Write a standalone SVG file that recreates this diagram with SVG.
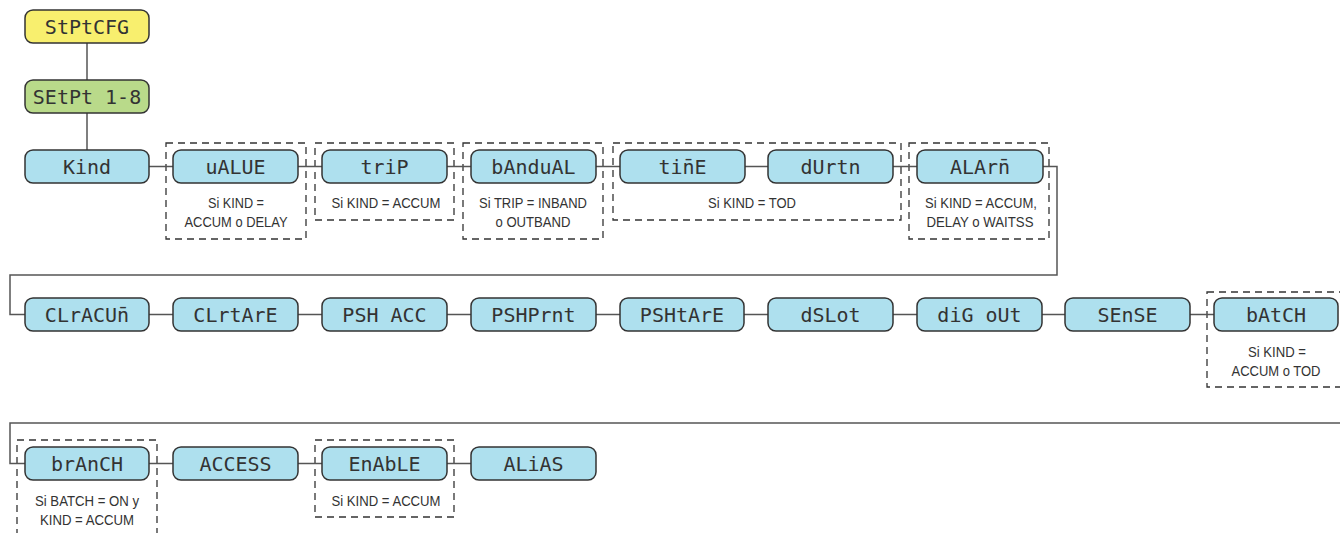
<svg xmlns="http://www.w3.org/2000/svg" width="1340" height="533" viewBox="0 0 1340 533">
<style>
.n{stroke:#333;stroke-width:1.5}
.y{fill:#f8ef6e}
.g{fill:#b9da8a}
.b{fill:#aee0ee}
.lcd{font-family:"DejaVu Sans Mono","Liberation Mono",monospace;font-size:20px;fill:#333;text-anchor:middle}
.c{fill:none;stroke:#555;stroke-width:1.5}
.d{fill:none;stroke:#333;stroke-width:1.3;stroke-dasharray:7 5}
.t{font-family:"Liberation Sans",Arial,sans-serif;font-size:15.5px;fill:#333;text-anchor:middle}
</style>
<rect width="1340" height="533" fill="#fff"/>
<g id="conditions">
<rect class="d" x="166" y="143" width="140" height="96"/>
<text class="t" x="236" y="208" textLength="56" lengthAdjust="spacingAndGlyphs">Si KIND =</text>
<text class="t" x="236" y="227" textLength="103" lengthAdjust="spacingAndGlyphs">ACCUM o DELAY</text>
<rect class="d" x="315" y="143" width="139" height="77"/>
<text class="t" x="386" y="208" textLength="109" lengthAdjust="spacingAndGlyphs">Si KIND = ACCUM</text>
<rect class="d" x="463" y="143" width="140" height="96"/>
<text class="t" x="533" y="208" textLength="108" lengthAdjust="spacingAndGlyphs">Si TRIP = INBAND</text>
<text class="t" x="533" y="227" textLength="75" lengthAdjust="spacingAndGlyphs">o OUTBAND</text>
<rect class="d" x="613" y="143" width="288" height="77"/>
<text class="t" x="752" y="208" textLength="88" lengthAdjust="spacingAndGlyphs">Si KIND = TOD</text>
<rect class="d" x="909" y="143" width="140" height="96"/>
<text class="t" x="981" y="208" textLength="112" lengthAdjust="spacingAndGlyphs">Si KIND = ACCUM,</text>
<text class="t" x="980" y="227" textLength="107" lengthAdjust="spacingAndGlyphs">DELAY o WAITSS</text>
<rect class="d" x="1207" y="292" width="140" height="95"/>
<text class="t" x="1277" y="357" textLength="58" lengthAdjust="spacingAndGlyphs">Si KIND =</text>
<text class="t" x="1276" y="376" textLength="89" lengthAdjust="spacingAndGlyphs">ACCUM o TOD</text>
<rect class="d" x="17" y="440" width="140" height="100"/>
<text class="t" x="87" y="506" textLength="104" lengthAdjust="spacingAndGlyphs">Si BATCH = ON y</text>
<text class="t" x="87" y="525" textLength="94" lengthAdjust="spacingAndGlyphs">KIND = ACCUM</text>
<rect class="d" x="315" y="440" width="139" height="77"/>
<text class="t" x="386" y="506" textLength="109" lengthAdjust="spacingAndGlyphs">Si KIND = ACCUM</text>
</g>
<g id="connectors">
<path class="c" d="M87,43V80M87,113V150"/>
<path class="c" d="M149,166.5H173M298,166.5H322M447,166.5H471M596,166.5H620M745,166.5H768M893,166.5H917"/>
<path class="c" d="M1043,166.5H1057V275H10V314.5H25"/>
<path class="c" d="M149,314.5H173M298,314.5H322M447,314.5H471M596,314.5H620M744,314.5H768M893,314.5H917M1042,314.5H1065M1190,314.5H1214"/>
<path class="c" d="M1340,423H10V463.5H25"/>
<path class="c" d="M149,463.5H173M298,463.5H322M447,463.5H471"/>
</g>
<g id="stptcfg"><rect class="n y" x="25" y="10" width="124" height="33" rx="8"/><text class="lcd" x="87" y="34">StPtCFG</text></g>
<g id="setpt"><rect class="n g" x="25" y="80" width="124" height="33" rx="8"/><text class="lcd" x="87" y="104">SEtPt 1-8</text></g>
<g id="kind"><rect class="n b" x="25" y="150" width="124" height="33" rx="8"/><text class="lcd" x="87" y="174">Kind</text></g>
<g id="value"><rect class="n b" x="173" y="150" width="125" height="33" rx="8"/><text class="lcd" x="235.5" y="174">uALUE</text></g>
<g id="trip"><rect class="n b" x="322" y="150" width="125" height="33" rx="8"/><text class="lcd" x="384.5" y="174">triP</text></g>
<g id="bandval"><rect class="n b" x="471" y="150" width="125" height="33" rx="8"/><text class="lcd" x="533.5" y="174">bAnduAL</text></g>
<g id="time"><rect class="n b" x="620" y="150" width="125" height="33" rx="8"/><text class="lcd" x="682.5" y="174">tin̄E</text></g>
<g id="durtn"><rect class="n b" x="768" y="150" width="125" height="33" rx="8"/><text class="lcd" x="830.5" y="174">dUrtn</text></g>
<g id="alarm"><rect class="n b" x="917" y="150" width="126" height="33" rx="8"/><text class="lcd" x="980" y="174">ALArn̄</text></g>
<g id="clracum"><rect class="n b" x="25" y="298" width="124" height="33" rx="8"/><text class="lcd" x="87" y="322">CLrACUn̄</text></g>
<g id="clrtare"><rect class="n b" x="173" y="298" width="125" height="33" rx="8"/><text class="lcd" x="235.5" y="322">CLrtArE</text></g>
<g id="pshacc"><rect class="n b" x="322" y="298" width="125" height="33" rx="8"/><text class="lcd" x="384.5" y="322">PSH ACC</text></g>
<g id="pshprnt"><rect class="n b" x="471" y="298" width="125" height="33" rx="8"/><text class="lcd" x="533.5" y="322">PSHPrnt</text></g>
<g id="pshtare"><rect class="n b" x="620" y="298" width="124" height="33" rx="8"/><text class="lcd" x="682" y="322">PSHtArE</text></g>
<g id="dslot"><rect class="n b" x="768" y="298" width="125" height="33" rx="8"/><text class="lcd" x="830.5" y="322">dSLot</text></g>
<g id="digout"><rect class="n b" x="917" y="298" width="125" height="33" rx="8"/><text class="lcd" x="979.5" y="322">diG oUt</text></g>
<g id="sense"><rect class="n b" x="1065" y="298" width="125" height="33" rx="8"/><text class="lcd" x="1127.5" y="322">SEnSE</text></g>
<g id="batch"><rect class="n b" x="1214" y="298" width="124" height="33" rx="8"/><text class="lcd" x="1276" y="322">bAtCH</text></g>
<g id="branch"><rect class="n b" x="25" y="447" width="124" height="33" rx="8"/><text class="lcd" x="87" y="471">brAnCH</text></g>
<g id="access"><rect class="n b" x="173" y="447" width="125" height="33" rx="8"/><text class="lcd" x="235.5" y="471">ACCESS</text></g>
<g id="enable"><rect class="n b" x="322" y="447" width="125" height="33" rx="8"/><text class="lcd" x="384.5" y="471">EnAbLE</text></g>
<g id="alias"><rect class="n b" x="471" y="447" width="125" height="33" rx="8"/><text class="lcd" x="533.5" y="471">ALiAS</text></g>
</svg>
